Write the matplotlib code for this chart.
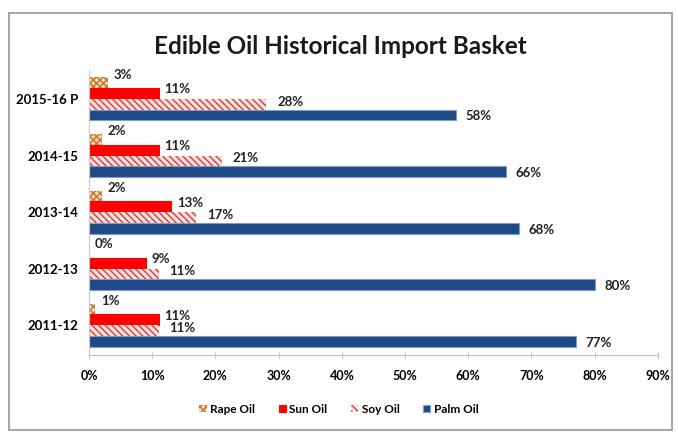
import numpy as np
import matplotlib
matplotlib.use("Agg")
import matplotlib.pyplot as plt
from matplotlib.patches import Patch, Rectangle

# Data (percent of import basket)
years = ["2011-12", "2012-13", "2013-14", "2014-15", "2015-16 P"]
rape_oil = [1, 0, 2, 2, 3]
sun_oil = [11, 9, 13, 11, 11]
soy_oil = [11, 11, 17, 21, 28]
palm_oil = [77, 80, 68, 66, 58]

plt.rcParams['font.family'] = ['Lato', 'DejaVu Sans']
plt.rcParams['hatch.linewidth'] = 1.1

fig = plt.figure(figsize=(6.78, 4.33), dpi=100)
ax = fig.add_axes([0.1313, 0.180, 0.839, 0.658])

y = np.arange(len(years))
h = 0.19

# series styles: (values, label, facecolor, edgecolor, hatch, offset, label dx/dy in points)
series = [
    (rape_oil, "Rape Oil", "#f6dcc0", "#c8782e", "xxxxx", 1.5, (4, 6)),
    (sun_oil, "Sun Oil", "#ff0000", "#ff0000", None, 0.5, (4, 3)),
    (soy_oil, "Soy Oil", "#fbe3e3", "#d9473f", "\\\\\\\\\\", -0.5, (8, 2)),
    (palm_oil, "Palm Oil", "#1f4a87", "#7f9cc8", None, -1.5, (7, -1)),
]

handles = []
for vals, name, fc, ec, hatch, off, (dx, dy) in series:
    pos = y + off * h
    if hatch:
        ax.barh(pos, vals, height=h, color=fc, edgecolor=ec, hatch=hatch, linewidth=0)
    else:
        ax.barh(pos, vals, height=h, color=fc, edgecolor=ec, linewidth=0.8)
    for p, v in zip(pos, vals):
        ax.annotate(f"{v}%", (v, p), xytext=(dx, dy), textcoords="offset points",
                    ha="left", va="center", fontsize=9.5, fontweight="bold", color="#222222")
    handles.append(Patch(facecolor=fc, edgecolor=ec, hatch=hatch, linewidth=0 if hatch else 0.8, label=name))

ax.set_xlim(0, 90)
ax.set_ylim(-0.53, 4.51)
ax.set_xticks(np.arange(0, 91, 10))
ax.set_xticklabels([f"{t}%" for t in range(0, 91, 10)], fontsize=9, fontweight="bold")
ax.set_yticks(y)
ax.set_yticklabels(years, fontsize=9.5, fontweight="bold")
ax.tick_params(axis="y", length=0, pad=8)
ax.tick_params(axis="x", length=4, direction="inout", color="#c0c0c0", pad=9)
for s in ["top", "right"]:
    ax.spines[s].set_visible(False)
ax.spines["left"].set_color("#c8c8c8")
ax.spines["bottom"].set_color("#c0c0c0")

fig.text(0.502, 0.892, "Edible Oil Historical Import Basket", ha="center", va="center",
         fontsize=17.5, fontweight="bold", color="#1a1a1a")

fig.legend(handles=handles, loc="center", bbox_to_anchor=(0.5, 0.055), ncol=4, frameon=False,
           prop={"size": 8.5, "weight": "bold"}, handlelength=0.6, handleheight=0.6,
           handletextpad=0.3, columnspacing=2.0)

fig.patches.append(Rectangle((0.0133, 0.0069), 0.978, 0.963, transform=fig.transFigure,
                             fill=False, edgecolor="#a8a8a8", linewidth=1.5))

fig.savefig("out.png", dpi=100)
